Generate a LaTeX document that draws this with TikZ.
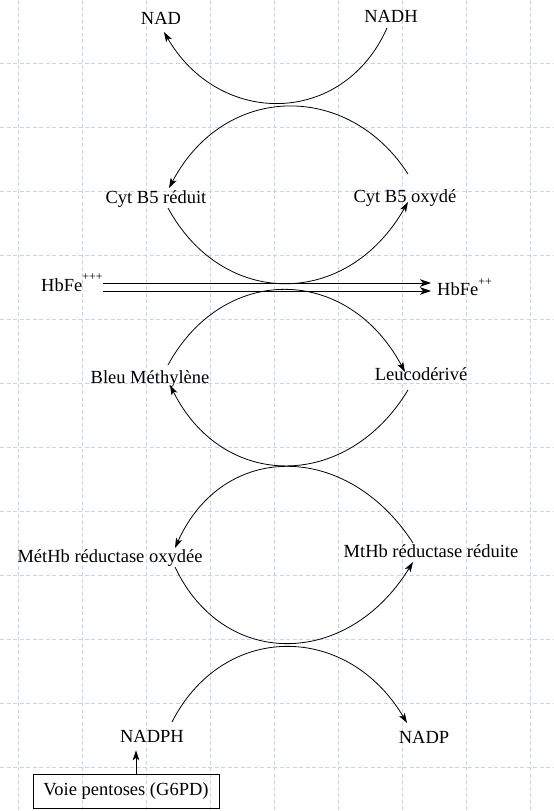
\documentclass[tikz,border=0pt]{standalone}
\usepackage{fontspec}
\setmainfont{Liberation Serif}
\usetikzlibrary{arrows.meta}

\definecolor{gridblue}{RGB}{198,210,248}

\begin{document}
\begin{tikzpicture}[x=1pt,y=-1pt,
  lbl/.style={inner sep=0pt, font=\fontsize{18.5}{22}\selectfont},
  link/.style={line width=0.8pt, black},
  tip/.style={-{Stealth[length=10pt,width=6.5pt,inset=2.5pt]}},
  bigtip/.style={-{Stealth[length=11pt,width=7.5pt,inset=3pt]}},
  gridline/.style={gridblue, line width=1pt, dash pattern=on 4pt off 2.5pt}]

\useasboundingbox (0,0) rectangle (554,811);

% background grid
\foreach \gx in {18,82,...,530} \draw[gridline] (\gx,0) -- (\gx,811);
\foreach \gy in {63,127,...,767} \draw[gridline] (0,\gy) -- (554,\gy);

% labels
\node[lbl, anchor=base] (nad)   at (161,24)  {NAD};
\node[lbl, anchor=base] (nadh)  at (391,23)  {NADH};
\node[lbl, anchor=base] (cytr)  at (156,203) {Cyt B5 réduit};
\node[lbl, anchor=base] (cyto)  at (405,202) {Cyt B5 oxydé};
\node[lbl, anchor=base west] (hb3) at (41,291) {HbFe\raisebox{11pt}{\fontsize{12}{12}\selectfont +++}};
\node[lbl, anchor=base west] (hb2) at (437,295) {HbFe\raisebox{10pt}{\fontsize{12}{12}\selectfont ++}};
\node[lbl, anchor=base] (bleu)  at (150,383) {Bleu Méthylène};
\node[lbl, anchor=base] (leuco) at (421,380) {Leucodérivé};
\node[lbl, anchor=base] (metox) at (110,562) {MétHb réductase oxydée};
\node[lbl, anchor=base] (metred) at (431,557) {MtHb réductase réduite};
\node[lbl, anchor=base] (nadph) at (152,742) {NADPH};
\node[lbl, anchor=base] (nadp)  at (424,743) {NADP};
\node[lbl, draw, line width=0.8pt, minimum width=186pt, minimum height=34pt] (voie) at (126,791) {Voie pentoses (G6PD)};

% arc end points beside the labels
\coordinate (nadh-a)   at (387,28);
\coordinate (nad-a)    at (164,32);
\coordinate (cyto-u)   at (408,174);
\coordinate (cytr-u)   at (169,188);
\coordinate (cytr-l)   at (168,208);
\coordinate (cyto-l)   at (408,202);
\coordinate (bleu-u)   at (168,365);
\coordinate (leuco-u)  at (405,372);
\coordinate (leuco-l)  at (408,390);
\coordinate (bleu-l)   at (170,385);
\coordinate (metred-u) at (413,543);
\coordinate (metox-u)  at (175,548);
\coordinate (metox-l)  at (175,567);
\coordinate (metred-l) at (413,562);
\coordinate (nadph-a)  at (172,722);
\coordinate (nadp-a)   at (407,723);

% NADH -> NAD
\draw[link,tip] (nadh-a) .. controls (343,127) and (219,127) .. (nad-a);
% cytochrome b5 cycle
\draw[link,tip] (cyto-u) .. controls (349,82) and (225,82) .. (cytr-u);
\draw[link,tip] (cytr-l) .. controls (223,309) and (347,309) .. (cyto-l);
% methylene blue cycle
\draw[link,tip] (bleu-u) .. controls (223,264) and (347,264) .. (leuco-u);
\draw[link,tip] (leuco-l) .. controls (347,491) and (223,491) .. (bleu-l);
% methaemoglobin reductase cycle
\draw[link,tip] (metred-u) .. controls (347,441) and (223,441) .. (metox-u);
\draw[link,tip] (metox-l) .. controls (223,669) and (347,669) .. (metred-l);
% NADPH -> NADP
\draw[link,tip] (nadph-a) .. controls (223,622) and (347,622) .. (nadp-a);

% HbFe+++ -> HbFe++
\coordinate (hbup) at (0,283);
\coordinate (hbdn) at (0,291);
\draw[link,bigtip] (hb3.east |- hbup) -- ([xshift=-6pt]hb2.west |- hbup);
\draw[link,bigtip] (hb3.east |- hbdn) -- ([xshift=-6pt]hb2.west |- hbdn);

% pentose pathway feeds NADPH
\draw[link,tip,shorten >=8pt] ([xshift=10pt]voie.north) -- ([xshift=10pt]voie.north |- nadph.south);

\end{tikzpicture}
\end{document}
